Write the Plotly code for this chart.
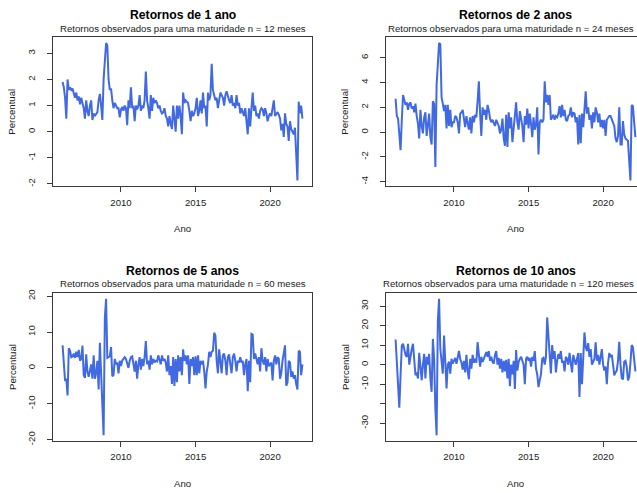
import plotly.graph_objects as go

# ---------------- data (monthly, Feb 2006 .. Mar 2022) ----------------
START_YEAR = 2006
START_MONTH = 2

ret_1y = [
    1.9, 1.7, 1.3, 0.5, 2.0, 1.6, 1.7, 1.6, 1.65, 1.4, 1.3,
    1.5, 1.2, 1.35, 1.05, 1.3, 1.1, 0.9, 0.5, 1.2, 0.8, 0.6, 1.0,
    1.2, 0.45, 0.7, 0.6, 0.7, 0.75, 1.2, 1.45, 1.0, 0.45, 2.0, 2.7,
    3.4, 3.3, 2.0, 1.6, 1.65, 1.2, 0.9, 1.1, 1.0, 0.9, 0.9, 0.55,
    0.85, 0.95, 0.8, 1.0, 0.9, 0.25, 1.2, 0.9, 1.7, 0.9, 1.0, 0.4,
    1.0, 0.85, 1.0, 1.4, 0.8, 1.0, 0.9, 1.2, 2.3, 1.2, 0.9, 0.5,
    1.4, 0.8, 1.3, 1.1, 1.2, 1.1, 0.9, 1.0, 0.8, 0.7, 0.75, 0.9,
    0.6, 0.5, 0.2, 0.6, 0.3, 0.1, 1.0, 0.5, 0.0, 1.0, 0.5, 1.0,
    0.6, -0.1, 1.5, 1.1, 1.2, 1.15, 1.1, 0.8, 0.4, 0.8, 0.6, 0.7,
    0.9, 1.3, 0.6, 0.8, 1.2, 0.7, 1.5, 0.9, 1.0, 0.2, 1.5, 1.2,
    1.4, 2.6, 1.6, 1.4, 1.2, 1.3, 0.9, 1.2, 1.5, 1.4, 1.3, 1.0,
    1.4, 1.55, 1.3, 1.2, 1.1, 1.4, 1.0, 1.1, 0.9, 1.4, 1.0, 1.1,
    0.7, 0.9, 0.75, 0.6, 0.9, 0.4, -0.1, 0.9, 0.2, 0.9, 1.5, 0.8,
    1.0, 0.6, 0.7, 0.5, 0.8, 0.9, 0.85, 0.6, 0.9, 0.7, 0.4, 0.6,
    0.7, 0.6, 0.9, 1.2, 0.6, 0.7, 0.75, 0.65, 0.5, 0.05, 0.3, -0.2,
    0.7, 0.3, 0.2, -0.35, 0.4, 0.1, 0.0, -0.1, 0.15, -0.9, -1.87, 1.15,
    0.7, 1.0, 0.5,
]

ret_2y = [
    2.7, 1.3, 1.1, -0.7, -1.45, 1.0, 3.0, 2.6, 2.2, 2.4, 1.8,
    2.3, 2.4, 1.9, 2.1, 1.6, 2.3, 1.3, 0.7, -0.5, 1.8, 0.5, -0.1,
    1.2, 1.6, -0.3, 0.8, 1.5, -0.4, -1.0, 2.5, 2.3, -2.8, 3.8, 5.5,
    7.2, 7.1, 2.8, 2.3, 1.7, 2.2, 0.3, 2.2, 0.5, 1.8, 0.4, 0.8,
    0.8, 1.3, 1.2, 0.8, -0.1, 1.5, 1.6, 1.8, 1.2, 0.4, 1.3, 0.6,
    0.2, 1.2, -0.1, 1.3, 0.8, 1.4, 1.2, 2.5, 4.1, 1.5, -0.3, 2.0,
    1.4, 1.8, 1.0, 2.2, 1.8, 1.1, 0.8, 1.0, 0.7, 0.5, 1.0, 0.8,
    0.5, -0.1, 0.2, 1.1, -0.5, -1.1, 1.4, -1.2, 1.6, 0.3, 1.2, -0.8,
    0.4, 1.9, 2.4, 0.8, 0.2, 1.7, 0.9, 0.5, -0.8, 1.3, 0.6, 1.9,
    0.3, 1.5, 0.7, -0.4, 1.2, 0.2, 0.6, 2.0, -1.8, 0.8, 1.0, 0.8,
    1.0, 4.1, 2.4, 3.0, 2.2, 3.0, 1.0, 1.2, 1.4, 1.0, 1.3, 1.2,
    1.5, 2.1, 1.2, 2.2, 1.3, 1.8, 1.0, 0.9, 1.3, 1.4, 2.0, 1.2,
    1.6, 1.5, 0.8, 1.2, -1.0, 1.4, -0.9, 1.5, 0.4, 1.8, 3.3, 1.5,
    2.0, 1.0, 1.4, 0.3, 1.6, 0.8, 2.0, 1.6, 0.8, 1.5, 0.4, 1.0,
    0.3, 1.0, -0.3, 1.0, 1.2, 1.3, 1.3, 1.0, 0.8, 0.5, -0.5, -0.8,
    -0.3, 2.0, -1.0, -1.0, 0.9, -0.2, -0.5, -0.6, -0.7, -2.3, -3.9, 2.2,
    2.1, 0.8, -0.4,
]

ret_5y = [
    6.3, 1.5, -3.6, -3.0, -7.7, 5.5, 4.8, 3.0, 3.2, 4.0, 2.8,
    4.5, 3.0, 5.0, 2.0, 2.5, 6.2, -2.0, -2.8, 3.8, -1.0, -2.5, -0.5,
    1.0, -3.0, 3.5, -3.0, -1.5, 2.0, -6.0, 7.0, -2.5, -10.5, -18.8, 14.0,
    19.3, 2.8, 3.0, 3.2, 5.8, -2.3, -2.0, 2.5, 1.0, 1.5, -1.5, 2.0,
    0.5, 2.0, 2.5, 3.0, 2.5, 1.0, 0.0, 2.0, 3.0, 3.2, 1.5, -1.0,
    2.0, -3.0, 1.0, 3.0, -0.5, 2.5, 0.5, 3.0, 7.5, 1.0, 2.0, -0.5,
    3.5, 1.0, 2.5, 1.5, 2.0, 1.8, 3.5, 2.5, 1.0, 3.5, 2.0, 2.5,
    1.5, -1.0, 3.5, -2.0, 0.5, -4.5, 3.0, -5.0, 2.5, -4.0, 3.5, -1.0,
    3.0, -2.0, 5.2, 2.0, 3.5, 1.0, 3.5, -4.5, 2.5, 0.5, 3.0, -2.0,
    3.2, -2.0, 3.5, -1.5, 2.0, 1.0, 2.0, -1.0, -5.7, -1.0, 1.0, 4.5,
    3.0, 4.5, 4.8, 9.8, 9.0, 2.0, -1.5, 5.2, 2.0, -1.5, 3.5, 4.0,
    2.0, -2.0, 3.0, 3.8, 1.0, -1.5, 3.0, 4.0, 2.0, -1.0, 2.0, 1.5,
    3.0, 1.5, 2.0, -2.0, 1.0, 2.5, -6.5, 2.0, -4.0, 9.5, 9.3, 2.5,
    4.0, 2.0, 1.0, 3.0, -1.0, 5.5, 2.0, 1.0, 3.0, -1.0, 2.5, 0.5,
    1.0, 1.5, -3.5, 2.0, 3.5, 1.0, 3.0, 2.5, -3.0, -1.5, 2.0, 4.0,
    6.3, -5.0, -4.0, 2.0, 1.5, -2.5, -1.0, -3.0, -2.0, -4.5, -6.0, 4.8,
    4.5, -2.0, 1.0,
]

ret_10y = [
    12.9, 2.0, -10.5, -22.0, -5.4, 9.8, 10.7, 7.0, 5.0, 4.0, 10.7,
    0.0, 5.5, 8.0, 10.7, 4.5, -5.4, -4.0, -7.1, 6.1, -3.0, -8.0, 0.0,
    5.6, -7.0, 4.0, 0.0, 5.6, -7.0, -13.9, 13.2, 3.0, -22.4, -36.2, 22.5,
    33.8, 8.0, 2.0, -4.6, 14.9, 3.0, -12.2, 0.0, 1.5, -4.6, 3.0, 0.5,
    2.0, 3.5, 0.5, 4.0, 7.0, 3.0, 1.0, -2.5, 2.0, -4.0, 5.0, -3.0,
    -7.5, 3.0, -2.0, 5.0, 1.0, 3.0, 1.0, 11.5, 3.0, -1.0, 4.0, 1.5,
    3.0, 5.0, 6.5, 4.0, 7.0, 2.0, 4.0, 1.5, 0.5, 5.0, 7.0, 0.0,
    3.5, -2.0, 3.0, -4.0, 2.0, -3.5, 2.5, -7.0, 3.0, -11.0, 0.0, -5.0,
    2.0, -12.5, 7.5, -3.0, 1.5, 3.0, 4.0, 2.0, 0.0, -10.0, 3.0, 4.0,
    2.0, 3.5, -1.0, 4.0, 2.0, 7.0, -2.0, -5.0, -11.5, -8.0, -5.0, 3.0,
    3.5, 0.0, 4.0, 24.2, 15.0, 5.0, -4.5, 10.0, 3.0, 7.0, -4.0, 2.0,
    5.5, 3.0, 7.0, 1.0, 2.0, -3.5, 4.0, 3.0, 0.0, 6.0, -1.0, -4.0,
    5.0, 2.0, 0.0, 3.0, 6.0, -16.5, 6.0, -10.0, 6.0, 16.5, 9.0, 7.0,
    11.0, 4.0, 8.0, 0.0, 1.5, 3.0, 11.5, 2.0, 5.0, 0.0, 4.0, 8.0,
    0.0, -3.0, -1.0, -10.0, 1.0, 6.0, 4.0, 5.0, 0.0, -5.5, -4.0, -3.0,
    2.0, 11.7, 0.0, -7.0, -7.5, 1.5, 2.0, -1.0, -8.0, -6.5, 1.0, 10.0,
    9.0, 4.0, -3.5,
]

titles = ["Retornos de 1 ano", "Retornos de 2 anos", "Retornos de 5 anos", "Retornos de 10 anos"]
maturities = [12, 24, 60, 120]
subtitle_fmt = "Retornos observados para uma maturidade n = {} meses"
x_tick_vals = [2010, 2015, 2020]
y_tick_vals = [
    [-2, -1, 0, 1, 2, 3],
    [-4, -2, 0, 2, 4, 6],
    [-20, -10, 0, 10, 20],
    [-30, -20, -10, 0, 10, 20, 30],
]
y_tick_text = [
    ["-2", "-1", "0", "1", "2", "3"],
    ["-4", "-2", "0", "2", "4", "6"],
    ["-20", "-10", "0", "10", "20"],
    ["-30", "", "-10", "0", "10", "20", "30"],
]
x_label = "Ano"
y_label = "Percentual"

series = [ret_1y, ret_2y, ret_5y, ret_10y]

# ---------------- layout helpers ----------------
W, H = 637, 493
FONT = "Liberation Sans, Arial, sans-serif"
BLUE = "#4169E1"
BOX = "#3a3a3a"
TXT = "#1a1a1a"

n = len(ret_1y)
t = [START_YEAR + (START_MONTH - 1 + i) / 12.0 for i in range(n)]

# panel boxes in pixels: (left, right_full, top, bottom)
BOX_W = 259
panels = [
    (53, 53 + BOX_W, 34, 185),
    (386, 386 + BOX_W, 34, 185),
    (53, 53 + BOX_W, 294, 444),
    (386, 386 + BOX_W, 294, 444),
]

fig = go.Figure()
annotations = []

tmin, tmax = min(t), max(t)
tspan = tmax - tmin
x_lo = tmin - 0.04 * tspan
x_hi = tmax + 0.04 * tspan
per_px = (x_hi - x_lo) / BOX_W

for k, (ys, (l, r, top, bot)) in enumerate(zip(series, panels)):
    idx = "" if k == 0 else str(k + 1)
    r_vis = min(r, W)
    x_end = x_lo + (r_vis - l) * per_px
    ymin, ymax = min(ys), max(ys)
    ysp = ymax - ymin
    y_rng = [ymin - 0.04 * ysp, ymax + 0.04 * ysp]

    fig.add_trace(go.Scatter(
        x=t, y=ys, mode="lines", xaxis="x" + idx, yaxis="y" + idx,
        line=dict(color=BLUE, width=2), showlegend=False, hoverinfo="skip",
    ))

    cut = r > W
    fig.layout["xaxis" + idx] = dict(
        domain=[l / W, r_vis / W], range=[x_lo, x_end], anchor="y" + idx,
        tickvals=x_tick_vals, ticktext=[str(v) for v in x_tick_vals],
        ticks="outside", ticklen=5, tickcolor=BOX, tickwidth=1,
        showline=True, linecolor=BOX, linewidth=1, mirror=True,
        showgrid=False, zeroline=False, ticklabelstandoff=2,
        tickfont=dict(family=FONT, size=9.6, color=TXT), fixedrange=True,
    )
    fig.layout["yaxis" + idx] = dict(
        domain=[1 - bot / H, 1 - top / H], range=y_rng, anchor="x" + idx,
        tickvals=y_tick_vals[k], ticktext=y_tick_text[k], tickangle=-90,
        ticks="outside", ticklen=5, tickcolor=BOX, tickwidth=1,
        showline=True, linecolor=BOX, linewidth=1, mirror=(not cut),
        showgrid=False, zeroline=False, ticklabelstandoff=8,
        tickfont=dict(family=FONT, size=9.6, color=TXT), fixedrange=True,
    )

    cx = (l + r) / 2.0 / W
    annotations.append(dict(
        text="<b>" + titles[k] + "</b>", x=cx, y=1 - (top - 22.5) / H,
        xref="paper", yref="paper", xanchor="center", yanchor="middle",
        showarrow=False, font=dict(family=FONT, size=12.2, color="black"),
    ))
    if cut:
        sub_x, sub_anchor = (W - 1.5) / W, "right"
    else:
        sub_x, sub_anchor = cx, "center"
    annotations.append(dict(
        text=subtitle_fmt.format(maturities[k]), x=sub_x, y=1 - (top - 9.5) / H,
        xref="paper", yref="paper", xanchor=sub_anchor, yanchor="middle",
        showarrow=False, font=dict(family=FONT, size=9.6, color=TXT),
    ))
    annotations.append(dict(
        text=x_label, x=cx, y=1 - (bot + 43) / H,
        xref="paper", yref="paper", xanchor="center", yanchor="middle",
        showarrow=False, font=dict(family=FONT, size=9.6, color=TXT),
    ))
    annotations.append(dict(
        text=y_label, x=(l - 41) / W, y=1 - ((top + bot) / 2.0) / H,
        xref="paper", yref="paper", xanchor="center", yanchor="middle",
        textangle=-90, showarrow=False,
        font=dict(family=FONT, size=9.6, color=TXT),
    ))

fig.update_layout(
    width=W, height=H, margin=dict(l=0, r=0, t=0, b=0),
    paper_bgcolor="white", plot_bgcolor="white",
    annotations=annotations, showlegend=False,
)

fig.write_html(
    "out.html",
    config={"displayModeBar": False},
    post_script="document.body.style.margin='0';document.body.style.overflow='hidden';",
)
